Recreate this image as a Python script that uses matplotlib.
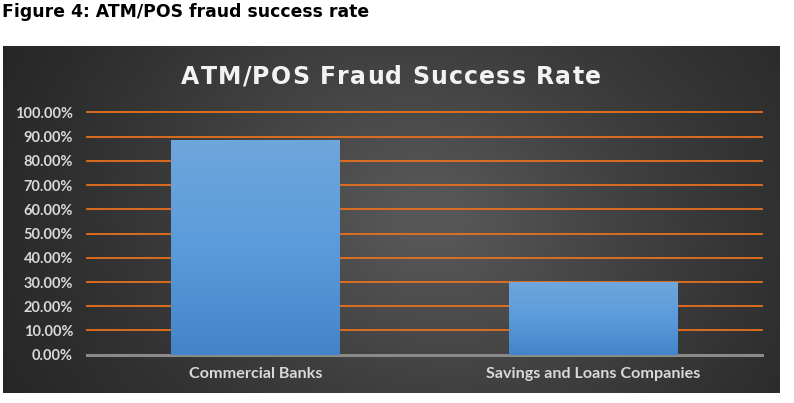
import numpy as np
import matplotlib
matplotlib.use("Agg")
import matplotlib.pyplot as plt
from matplotlib.colors import LinearSegmentedColormap

categories = ["Commercial Banks", "Savings and Loans Companies"]
values = [88.8, 30.1]
yticks = [0, 10, 20, 30, 40, 50, 60, 70, 80, 90, 100]
ytick_labels = [f"{v:.2f}%" for v in yticks]
caption = "Figure 4: ATM/POS fraud success rate"
title = "ATM/POS Fraud Success Rate"

W, H = 794, 403
fig = plt.figure(figsize=(W / 100, H / 100), dpi=100)
fig.patch.set_facecolor("white")

# panel background
px0, px1, py0, py1 = 3, 780, 45.5, 393
bg = fig.add_axes([px0 / W, 1 - py1 / H, (px1 - px0) / W, (py1 - py0) / H])
bg.set_axis_off()
nx, ny = 400, 200
xx, yy = np.meshgrid(np.linspace(0, 1, nx), np.linspace(0, 1, ny))
d = np.sqrt(((xx - 0.55) / 0.62) ** 2 + ((yy - 0.5) / 1.1) ** 2)
diag = 0.08 * np.cos((xx * 1.0 + yy * 0.45 - 0.75) * 6)
bright = np.clip(1 - d, 0, 1) ** 1.1 + diag * np.clip(1 - d, 0, 1)
bright = np.clip(bright, 0, 1)
low, high = 0.15, 0.34
img = low + (high - low) * bright
bg.imshow(np.dstack([img, img, img]), aspect="auto", extent=(0, 1, 0, 1),
          origin="lower", interpolation="bilinear")
bg.set_xlim(0, 1)
bg.set_ylim(0, 1)

# main axes
ax0, ax1, ay0, ay1 = 87, 762, 112.5, 354.7
ax = fig.add_axes([ax0 / W, 1 - ay1 / H, (ax1 - ax0) / W, (ay1 - ay0) / H])
ax.patch.set_alpha(0)
x = np.arange(len(categories))

for v in yticks[1:]:
    ax.axhline(v, color="#E8711E", lw=1.3, zorder=0.5, clip_on=False)
ax.axhline(0, color="#8a8a8a", lw=2.2, zorder=0.6, clip_on=False)

bars = ax.bar(x, values, width=0.5, color="#5b9bd5", zorder=3)
cmap = LinearSegmentedColormap.from_list("barg", ["#4384ca", "#5b9bdb", "#6fa6dc"])
grad = np.linspace(0, 1, 256).reshape(-1, 1)
for b in bars:
    bx, bw, bh = b.get_x(), b.get_width(), b.get_height()
    im = ax.imshow(grad, cmap=cmap, aspect="auto", origin="lower",
                   extent=(bx, bx + bw, 0, bh), zorder=3.5)
    im.set_clip_path(b)
ax.set_xlim(-0.5, len(categories) - 0.5)
ax.set_ylim(0, 100)

ax.set_yticks(yticks)
ax.set_yticklabels(ytick_labels)
ax.set_xticks(x)
ax.set_xticklabels(categories)
for s in ax.spines.values():
    s.set_visible(False)
ax.tick_params(axis="both", length=0, colors="#d9d9d9")
ax.tick_params(axis="y", pad=10)
ax.tick_params(axis="x", pad=9)
for lab in ax.get_yticklabels():
    lab.set_fontfamily("Lato")
    lab.set_fontweight("bold")
    lab.set_fontsize(10.5)
    lab.set_color("#d9d9d9")
for lab in ax.get_xticklabels():
    lab.set_fontfamily("Lato")
    lab.set_fontweight("bold")
    lab.set_fontsize(11.6)
    lab.set_color("#d9d9d9")

# title with letter spacing
renderer = fig.canvas.get_renderer()
fs = 17
track = 1.15
props = dict(fontsize=fs, fontweight="bold", color="#f2f2f2", family="DejaVu Sans")
widths = []
for ch in title:
    t = fig.text(0, 0, ch if ch != " " else "a", **props)
    widths.append(t.get_window_extent(renderer).width if ch != " " else None)
    t.remove()
sp = fig.text(0, 0, "a a", **props)
wsp = sp.get_window_extent(renderer).width
sp.remove()
aa = fig.text(0, 0, "aa", **props)
wsp = wsp - aa.get_window_extent(renderer).width
aa.remove()
widths = [w if w is not None else wsp for w in widths]
total = sum(widths) + track * (len(title) - 1)
cx = 391
xpos = cx - total / 2
for ch, w in zip(title, widths):
    if ch != " ":
        fig.text(xpos / W, 1 - 77 / H, ch, ha="left", va="center", **props)
    xpos += w + track

fig.text(2 / W, 1 - 12 / H, caption, ha="left", va="center",
         fontsize=12.4, fontweight="bold", color="black")

fig.savefig("out.png", dpi=100)
